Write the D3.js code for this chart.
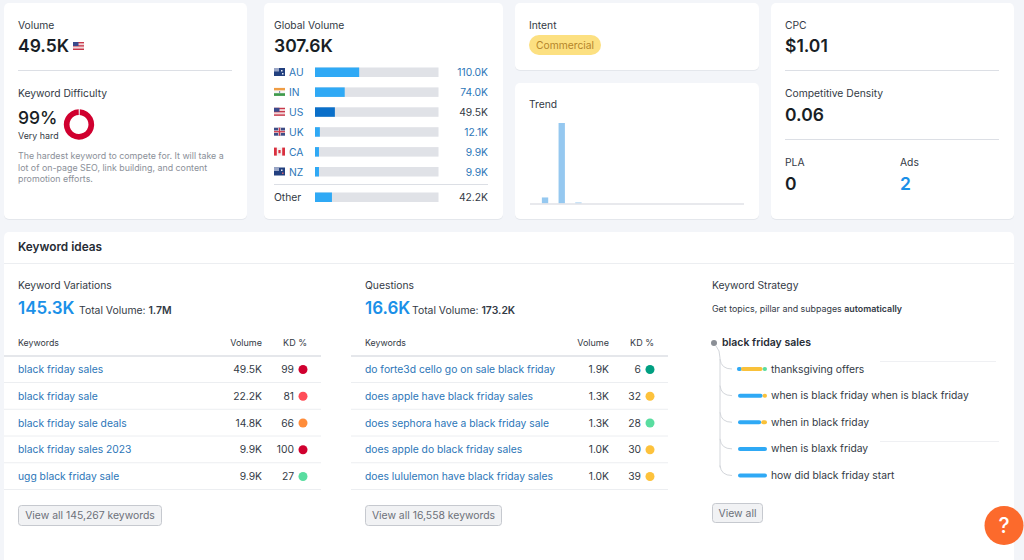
<!DOCTYPE html>
<html>
<head>
<meta charset="utf-8">
<script src="https://cdn.jsdelivr.net/npm/d3@7"></script>
<style>
html, body { margin: 0; padding: 0; background: #f3f5f9; overflow: hidden; }
svg { display: block; font-family: Inter, "Noto Sans", sans-serif; }
</style>
</head>
<body>
<div id="chart"></div>
<script>
// global volume
var countries = ['AU', 'IN', 'US', 'UK', 'CA', 'NZ']
var countryVolumes = [110.0, 74.0, 49.5, 12.1, 9.9, 9.9]
var countryLabels = ['110.0K', '74.0K', '49.5K', '12.1K', '9.9K', '9.9K']
var otherVolume = 42.2
var otherLabel = '42.2K'
var globalTotal = 307.6

// difficulty donut
var difficulty = [99, 1]

// trend, one bar per period
var trendPeriods = d3.range(13)
var trendValues = [0, 6, 80, 1, 0, 0, 0, 0, 0, 0, 0, 0, 0]

// keyword tables
var variationKeywords = ['black friday sales', 'black friday sale', 'black friday sale deals', 'black friday sales 2023', 'ugg black friday sale']
var variationVolumes = ['49.5K', '22.2K', '14.8K', '9.9K', '9.9K']
var variationKd = [99, 81, 66, 100, 27]
var questionKeywords = ['do forte3d cello go on sale black friday', 'does apple have black friday sales', 'does sephora have a black friday sale', 'does apple do black friday sales', 'does lululemon have black friday sales']
var questionVolumes = ['1.9K', '1.3K', '1.3K', '1.0K', '1.0K']
var questionKd = [6, 32, 28, 30, 39]

// keyword strategy, share of intent per topic: blue, yellow, green
var strategyTopics = ['thanksgiving offers', 'when is black friday when is black friday', 'when in black friday', 'when is blaxk friday', 'how did black friday start']
var strategyBlue = [10, 85, 80, 100, 100]
var strategyYellow = [75, 15, 20, 0, 0]
var strategyGreen = [15, 0, 0, 0, 0]

var width = 1024, height = 560
var svg = d3.select('#chart').append('svg').attr('width', width).attr('height', height)

function panel(x, y, w, h) {
	svg.append('rect').attr('x', x).attr('y', y + 1).attr('width', w).attr('height', h).attr('rx', 5).attr('fill', '#e4e7ec')
	svg.append('rect').attr('x', x).attr('y', y).attr('width', w).attr('height', h).attr('rx', 5).attr('fill', '#fff')
}
function text(x, y, str, size, color, weight, anchor) {
	return svg.append('text').attr('x', x).attr('y', y).text(str)
		.attr('font-size', size).attr('fill', color || '#333a45')
		.attr('font-weight', weight || 400).attr('text-anchor', anchor || 'start')
}
function rule(x1, x2, y, color, sw) {
	svg.append('line').attr('x1', x1).attr('x2', x2).attr('y1', y).attr('y2', y)
		.attr('stroke', color || '#dcdfe5').attr('stroke-width', sw || 1)
}
// tiny flags, just enough to look right at this size
function flag(code, x, y) {
	var g = svg.append('g').attr('transform', 'translate(' + x + ',' + y + ')')
	function r(a, b, w, h, c) { g.append('rect').attr('x', a).attr('y', b).attr('width', w).attr('height', h).attr('fill', c) }
	if (code == 'US') {
		r(0, 0, 11, 8, '#f1d5d8'); r(0, 0, 11, 1.3, '#c8384a'); r(0, 3.2, 11, 1.3, '#c8384a'); r(0, 6.6, 11, 1.4, '#c8384a'); r(0, 0, 5.5, 4, '#3b4a8c')
	} else if (code == 'AU' || code == 'NZ') {
		r(0, 0, 11, 8, '#22407f'); r(0, 0, 5, 3.5, '#9aa6c6'); r(7, 2, 1.5, 1.5, '#e6e9f2'); r(8, 5, 1.5, 1.5, code == 'NZ' ? '#d7616f' : '#e6e9f2')
	} else if (code == 'IN') {
		r(0, 0, 11, 2.7, '#ef9d45'); r(0, 2.7, 11, 2.6, '#f4f4f4'); r(0, 5.3, 11, 2.7, '#3f9a4b'); r(5, 3.5, 1.2, 1.2, '#3b4a8c')
	} else if (code == 'UK') {
		r(0, 0, 11, 8, '#3d4d86'); r(0, 2.7, 11, 2.6, '#e9d5d9'); r(4.2, 0, 2.6, 8, '#e9d5d9'); r(0, 3.4, 11, 1.2, '#cc3a4c'); r(4.9, 0, 1.2, 8, '#cc3a4c')
	} else if (code == 'CA') {
		r(0, 0, 11, 8, '#f6f2f2'); r(0, 0, 2.8, 8, '#d9303f'); r(8.2, 0, 2.8, 8, '#d9303f'); r(4.4, 2.4, 2.2, 3.2, '#d9303f')
	}
}
function kdColor(kd) {
	if (kd >= 85) return '#d0002f'
	if (kd >= 70) return '#ff4d58'
	if (kd >= 50) return '#ff8c3a'
	if (kd >= 30) return '#fdc23c'
	if (kd >= 15) return '#59dda0'
	return '#009f81'
}

panel(4, 3, 243, 216)
panel(264, 3, 239, 216)
panel(515, 3, 244, 67)
panel(515, 83, 244, 136)
panel(771, 3, 243, 216)
panel(4, 232, 1010, 340)

// volume + difficulty
text(18, 29, 'Volume', 10.3)
text(18, 52, '49.5K', 17.5, '#181e25', 600)
flag('US', 73, 42)
rule(18, 232, 70.5)
text(18, 97, 'Keyword Difficulty', 10.3)
text(18, 124, '99%', 17.5, '#181e25', 500)
text(18, 139, 'Very hard', 8.9)

var pie = d3.pie().sort(null).startAngle(0.05).endAngle(2 * Math.PI + 0.05)
var arc = d3.arc().innerRadius(9.5).outerRadius(15.2)
svg.append('g').attr('transform', 'translate(79,124.5)')
	.selectAll('path').data(pie(difficulty)).join('path')
	.attr('d', arc).attr('fill', function (d, i) { return i == 0 ? '#d0002f' : '#e4e7ec' })

var hardNote = ['The hardest keyword to compete for. It will take a', 'lot of on-page SEO, link building, and content', 'promotion efforts.']
hardNote.forEach(function (s, i) { text(18, 159 + i * 11.5, s, 8.85, '#8b9099') })

// global volume
text(274, 29, 'Global Volume', 10.3)
text(274, 52, '307.6K', 17.5, '#181e25', 600)

var gx = d3.scaleLinear().domain([0, globalTotal]).range([315, 438.5])
var gy = d3.scalePoint().domain(countries).range([72, 171.5])
countries.forEach(function (c, i) {
	var y = gy(c)
	flag(c, 274, y - 4)
	text(289, y + 4, c, 10.3, '#2c76b8')
	svg.append('rect').attr('x', gx(0)).attr('y', y - 4.5).attr('width', gx(globalTotal) - gx(0)).attr('height', 9.5).attr('fill', '#e0e2e7')
	svg.append('rect').attr('x', gx(0)).attr('y', y - 4.5).attr('width', gx(countryVolumes[i]) - gx(0)).attr('height', 9.5)
		.attr('fill', c == 'US' ? '#0a6fc9' : '#2fa9f5')
	text(488, y + 4, countryLabels[i], 10.3, c == 'US' ? '#333a45' : '#2c76b8', 400, 'end')
})
rule(274, 488, 184.5)
text(274, 201, 'Other', 10.3)
svg.append('rect').attr('x', gx(0)).attr('y', 192.5).attr('width', gx(globalTotal) - gx(0)).attr('height', 9.5).attr('fill', '#e0e2e7')
svg.append('rect').attr('x', gx(0)).attr('y', 192.5).attr('width', gx(otherVolume) - gx(0)).attr('height', 9.5).attr('fill', '#2fa9f5')
text(488, 201, otherLabel, 10.3, '#333a45', 400, 'end')

// intent
text(529, 29, 'Intent', 10.3)
svg.append('rect').attr('x', 529).attr('y', 35).attr('width', 72).attr('height', 20).attr('rx', 10).attr('fill', '#fce081')
text(565, 49, 'Commercial', 10.3, '#b5852a', 400, 'middle')

// trend
text(529, 108, 'Trend', 10.3)
var tx = d3.scaleBand().domain(trendPeriods).range([520, 737]).paddingInner(0.62).paddingOuter(0.31)
var ty = d3.scaleLinear().domain([0, 80]).range([203.5, 123])
svg.selectAll('.trend').data(trendValues).join('rect').attr('class', 'trend')
	.attr('x', function (d, i) { return tx(i) }).attr('width', tx.bandwidth())
	.attr('y', function (d) { return ty(d) }).attr('height', function (d) { return ty(0) - ty(d) })
	.attr('fill', '#95c8f0')
rule(530, 744, 204, '#e0e2e7', 1.5)

// cpc column
text(785, 29, 'CPC', 10.3)
text(785, 52, '$1.01', 17.5, '#181e25', 600)
rule(785, 999, 70.5)
text(785, 97, 'Competitive Density', 10.3)
text(785, 121, '0.06', 17.5, '#181e25', 600)
rule(785, 999, 139.5)
text(785, 166, 'PLA', 10.3)
text(785, 189.5, '0', 17.5, '#181e25', 600)
text(900, 166, 'Ads', 10.3)
text(900, 189.5, '2', 17.5, '#1a90e8', 600)

// keyword ideas
text(18, 251, 'Keyword ideas', 11.8, '#262c35', 600)
rule(4, 1014, 263.5, '#eceef1')

function keywordColumn(x, ruleStart, ruleEnd, title, total, totalX, totalVol, words, vols, kds, viewAll, btnW) {
	var off = x - 18
	text(x, 289, title, 10.3)
	text(x, 314, total, 17, '#1a90e8', 600)
	var t = text(totalX, 314, 'Total Volume: ', 10.4, '#333a45')
	t.append('tspan').text(totalVol).attr('font-weight', 600)
	text(x, 346, 'Keywords', 8.8)
	text(262 + off, 346, 'Volume', 9, '#333a45', 400, 'end')
	text(307 + off, 346, 'KD %', 9, '#333a45', 400, 'end')
	rule(ruleStart, ruleEnd, 356, '#dcdfe5', 1.5)

	var ry = d3.scalePoint().domain(d3.range(words.length)).range([369, 476])
	words.forEach(function (w, i) {
		var y = ry(i)
		text(x, y + 4, w, 10.3, '#2c76b8')
		text(262 + off, y + 4, vols[i], 10.3, '#333a45', 400, 'end')
		text(294 + off, y + 4, kds[i], 10.3, '#333a45', 400, 'end')
		svg.append('circle').attr('cx', 303 + off).attr('cy', y + 0.5).attr('r', 4.5).attr('fill', kdColor(kds[i]))
		rule(ruleStart, ruleEnd, y + 13.5, '#eceef1')
	})

	button(x, 505, btnW, 20, viewAll)
}
function button(x, y, w, h, label) {
	svg.append('rect').attr('x', x + 0.5).attr('y', y + 0.5).attr('width', w).attr('height', h).attr('rx', 3)
		.attr('fill', '#f1f2f4').attr('stroke', '#c6c9cf')
	text(x + w / 2 + 0.5, y + h / 2 + 4, label, 10.4, '#6c7079', 400, 'middle')
}
keywordColumn(18, 4, 321, 'Keyword Variations', '145.3K', 79, '1.7M', variationKeywords, variationVolumes, variationKd, 'View all 145,267 keywords', 143)
keywordColumn(365, 351, 668, 'Questions', '16.6K', 412, '173.2K', questionKeywords, questionVolumes, questionKd, 'View all 16,558 keywords', 136)

// strategy
text(712, 289, 'Keyword Strategy', 10.3)
var auto = text(712, 312, 'Get topics, pillar and subpages ', 8.9)
auto.append('tspan').text('automatically').attr('font-weight', 600)

svg.append('circle').attr('cx', 714).attr('cy', 343).attr('r', 3).attr('fill', '#8b8f96')
text(722, 346, 'black friday sales', 10.5, '#262c35', 600)

var sy = d3.scalePoint().domain(strategyTopics).range([369, 475.5])
var sx = d3.scaleLinear().domain([0, 100]).range([738, 767])
var treeLine = '#d3d6db'
svg.append('path').attr('fill', 'none').attr('stroke', treeLine)
	.attr('d', 'M716,346Q720,350 720,358V' + (sy(strategyTopics[4]) - 8))
strategyTopics.forEach(function (s, i) {
	var y = sy(s)
	var p = d3.path()
	p.moveTo(720, y - 10)
	p.quadraticCurveTo(721, y, 732, y)
	svg.append('path').attr('d', p.toString()).attr('fill', 'none').attr('stroke', treeLine)

	var shares = [[strategyBlue[i], '#2fa9f5'], [strategyYellow[i], '#f9c13a'], [strategyGreen[i], '#59dda0']]
	var acc = 0
	shares.forEach(function (d) {
		if (d[0] == 0) return
		svg.append('line').attr('x1', sx(acc) + 2).attr('x2', sx(acc + d[0]) - 2).attr('y1', y).attr('y2', y)
			.attr('stroke', d[1]).attr('stroke-width', 4).attr('stroke-linecap', 'round')
		acc += d[0]
	})
	text(771, y + 3.5, s, 10.3)
})
rule(880, 996, 361.5, '#eff0f3')
rule(880, 999, 441.5, '#eff0f3')
button(712, 503, 50, 19, 'View all')

// help bubble
svg.append('circle').attr('cx', 1004).attr('cy', 525.5).attr('r', 19.5).attr('fill', '#fc6a2c')
text(1004, 533, '?', 21, '#fff', 500, 'middle')
</script>
</body>
</html>
